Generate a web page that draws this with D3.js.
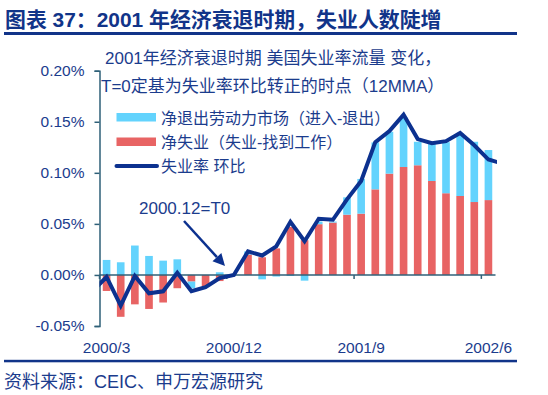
<!DOCTYPE html>
<html>
<head>
<meta charset="utf-8">
<script src="https://cdn.jsdelivr.net/npm/d3@7"></script>
<style>
  body { margin: 0; background: #fff; }
  svg text { font-family: "Liberation Sans", "Noto Sans CJK SC", sans-serif; fill: #1b3c8d; }
</style>
</head>
<body>
<svg width="548" height="395"></svg>
<script>
// months 2000/3 .. 2002/6
const months = [
  "2000/3", "2000/4", "2000/5", "2000/6", "2000/7", "2000/8", "2000/9", "2000/10", "2000/11", "2000/12",
  "2001/1", "2001/2", "2001/3", "2001/4", "2001/5", "2001/6", "2001/7", "2001/8", "2001/9", "2001/10",
  "2001/11", "2001/12", "2002/1", "2002/2", "2002/3", "2002/4", "2002/5", "2002/6"
];
const tickLabels = ["2000/3", "2000/12", "2001/9", "2002/6"];
const yTicks = [-0.05, 0, 0.05, 0.1, 0.15, 0.2];

// values in % points
const netExit = [
  0.0147, 0.0124, 0.0288, 0.0186, 0.014, 0.0153, -0.0065, 0, 0.0026, 0,
  0.003, -0.0043, -0.0016, -0.001, -0.0056, 0.0026, 0.001, 0.017, 0.034, 0.046,
  0.041, 0.049, 0.023, 0.037, 0.05, 0.061, 0.059, 0.049
];
const netUnemp = [
  -0.0157, -0.041, -0.0288, -0.0333, -0.027, -0.013, -0.0065, -0.0114, -0.006, 0,
  0.02, 0.0173, 0.026, 0.047, 0.034, 0.0497, 0.0513, 0.059, 0.06, 0.0838,
  0.0992, 0.1057, 0.1074, 0.092, 0.08, 0.0773, 0.0714, 0.0733
];
const unempMoM = [
  -0.002, -0.03, -0.001, -0.018, -0.016, 0.002, -0.016, -0.012, -0.003, 0,
  0.023, 0.019, 0.028, 0.052, 0.033, 0.055, 0.054, 0.074, 0.092, 0.13,
  0.141, 0.157, 0.133, 0.129, 0.131, 0.139, 0.127, 0.113
];
// line runs in from the month before and out to the month after (clipped)
const lineBefore = -0.016;
const lineAfter = 0.109;

const navy = "#0c318f";
const sky = "#63d3fd";
const coral = "#e86464";
const axisColor = "#2f6078";

const svg = d3.select("svg");

// title + rules
svg.append("text").attr("x", 5).attr("y", 26.5)
  .attr("font-size", 20.9).attr("font-weight", "bold").style("fill", "#113489")
  .text("图表 37：2001 年经济衰退时期，失业人数陡增");
svg.append("rect").attr("x", 4).attr("y", 32).attr("width", 513).attr("height", 3).attr("fill", "#113489");
svg.append("rect").attr("x", 4).attr("y", 359.8).attr("width", 513).attr("height", 2.5).attr("fill", "#113489");
svg.append("text").attr("x", 4).attr("y", 387.5).attr("font-size", 18)
  .text("资料来源：CEIC、申万宏源研究");

// scales
const x = d3.scaleBand().domain(months).range([99.5, 495.5]).paddingInner(0.46).paddingOuter(0.23);
const y = d3.scaleLinear().domain([-0.05, 0.2]).range([326, 70.7]);
const step = x.step();
const cx = m => x(m) + x.bandwidth() / 2;

// y axis
const yAxis = svg.append("g").attr("transform", "translate(99.5,0)")
  .call(d3.axisLeft(y).tickValues(yTicks).tickSize(5).tickPadding(10)
    .tickFormat(d => d.toFixed(2) + "%"));
yAxis.selectAll("path, line").attr("stroke", axisColor).attr("stroke-width", 1.5);
yAxis.selectAll("text").attr("font-size", 15.5).style("font-family", "Liberation Sans").style("fill", "#1b3c8d");

// bars (stacked, negatives diverge)
const rows = months.map((m, i) => ({ month: m, unemp: netUnemp[i], exit: netExit[i] }));
const stacked = d3.stack().keys(["unemp", "exit"]).offset(d3.stackOffsetDiverging)(rows);
const colors = { unemp: coral, exit: sky };

svg.append("g").selectAll("g").data(stacked).join("g")
  .attr("fill", d => colors[d.key])
  .selectAll("rect").data(d => d).join("rect")
  .attr("x", d => x(d.data.month))
  .attr("width", x.bandwidth())
  .attr("y", d => y(Math.max(d[0], d[1])))
  .attr("height", d => Math.abs(y(d[0]) - y(d[1])));

// x axis at zero
const x0 = x.range()[0];
svg.append("line").attr("x1", x0).attr("x2", x.range()[1])
  .attr("y1", y(0)).attr("y2", y(0)).attr("stroke", axisColor).attr("stroke-width", 1.5);
tickLabels.forEach(t => {
  const k = months.indexOf(t);
  svg.append("line").attr("x1", x0 + k * step).attr("x2", x0 + k * step)
    .attr("y1", y(0)).attr("y2", y(0) + 4).attr("stroke", axisColor).attr("stroke-width", 1.5);
  svg.append("text").attr("x", cx(t)).attr("y", 352.5)
    .attr("text-anchor", "middle").attr("font-size", 15.5).text(t);
});

// line
svg.append("clipPath").attr("id", "plotClip")
  .append("rect").attr("x", 99.5).attr("y", 0).attr("width", 397.5).attr("height", 395);
const pts = [[cx(months[0]) - step, lineBefore]]
  .concat(months.map((m, i) => [cx(m), unempMoM[i]]))
  .concat([[cx(months[months.length - 1]) + step, lineAfter]]);
svg.append("path").attr("clip-path", "url(#plotClip)")
  .attr("d", d3.line().x(d => d[0]).y(d => y(d[1]))(pts))
  .attr("fill", "none").attr("stroke", navy).attr("stroke-width", 4)
  .attr("stroke-linejoin", "miter");

// subtitle
svg.append("text").attr("x", 105).attr("y", 63.5).attr("font-size", 17)
  .text("2001年经济衰退时期 美国失业率流量 变化，");
svg.append("text").attr("x", 101).attr("y", 92).attr("font-size", 17)
  .text("T=0定基为失业率环比转正的时点（12MMA）");

// legend
const legend = svg.append("g");
legend.append("rect").attr("x", 116.5).attr("y", 113).attr("width", 39.5).attr("height", 8.5).attr("fill", sky);
legend.append("rect").attr("x", 116.5).attr("y", 137.5).attr("width", 39.5).attr("height", 8.5).attr("fill", coral);
legend.append("line").attr("x1", 116.5).attr("x2", 157).attr("y1", 166).attr("y2", 166)
  .attr("stroke", navy).attr("stroke-width", 4).attr("stroke-linecap", "round");
legend.append("text").attr("x", 161).attr("y", 123.5).attr("font-size", 16).text("净退出劳动力市场（进入-退出）");
legend.append("text").attr("x", 161).attr("y", 148).attr("font-size", 16).text("净失业（失业-找到工作）");
legend.append("text").attr("x", 161).attr("y", 172).attr("font-size", 16).text("失业率 环比");

// annotation
svg.append("text").attr("x", 139).attr("y", 214).attr("font-size", 17).text("2000.12=T0");
const a0 = [184, 221], a1 = [225, 266];
const ang = Math.atan2(a1[1] - a0[1], a1[0] - a0[0]);
const hl = 12, hw = 6;
const base = [a1[0] - hl * Math.cos(ang), a1[1] - hl * Math.sin(ang)];
svg.append("line").attr("x1", a0[0]).attr("y1", a0[1]).attr("x2", base[0]).attr("y2", base[1])
  .attr("stroke", navy).attr("stroke-width", 2.5);
svg.append("path").attr("fill", navy)
  .attr("d", `M${a1[0]},${a1[1]} L${base[0] + hw * Math.sin(ang)},${base[1] - hw * Math.cos(ang)} L${base[0] - hw * Math.sin(ang)},${base[1] + hw * Math.cos(ang)} Z`);
</script>
</body>
</html>
